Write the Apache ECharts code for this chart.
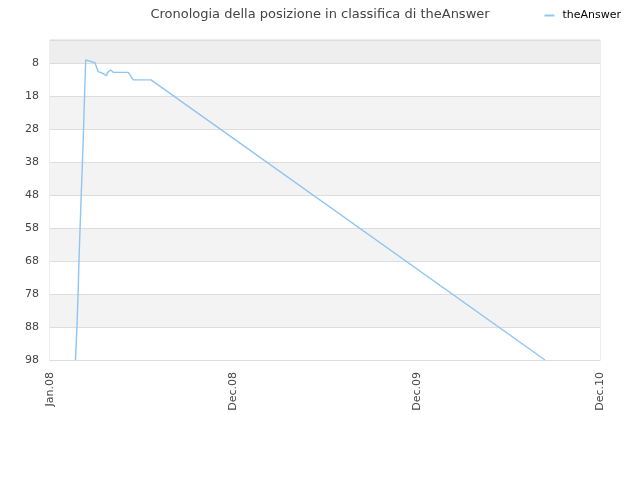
<!DOCTYPE html>
<html>
<head>
<meta charset="utf-8">
<script src="https://cdn.jsdelivr.net/npm/echarts@6/dist/echarts.min.js"></script>
<style>
  html, body { margin: 0; padding: 0; background: #fff; }
  #chart { width: 640px; height: 480px; }
</style>
</head>
<body>
<div id="chart"></div>
<script>
// x positions are in "label steps": 0 = Jan.08, 1 = Dec.08, 2 = Dec.09, 3 = Dec.10
const xTickLabels = ['Jan.08', 'Dec.08', 'Dec.09', 'Dec.10'];
const yTickValues = [8, 18, 28, 38, 48, 58, 68, 78, 88, 98];

const xPos = [0.139, 0.143, 0.147, 0.153, 0.158, 0.164, 0.171, 0.177, 0.183, 0.189, 0.193, 0.195,
  0.245, 0.254, 0.263, 0.278, 0.291, 0.309, 0.313, 0.331, 0.345, 0.427, 0.454, 0.551, 2.700];
const ranks = [98, 93, 88, 78, 68, 58, 47, 38, 28, 17, 10, 7,
  7.9, 8.1, 10.6, 10.9, 11.2, 11.9, 10.9, 10.1, 10.8, 10.8, 13.1, 13.1, 98];

const seriesName = 'theAnswer';

const chart = echarts.init(document.getElementById('chart'));

chart.setOption({
  animation: false,
  textStyle: { fontFamily: 'DejaVu Sans' },
  title: {
    text: 'Cronologia della posizione in classifica di ' + seriesName,
    left: 'center',
    top: 3,
    textStyle: { fontSize: 13, fontWeight: 'normal', color: '#444' }
  },
  legend: {
    right: 14,
    top: 5,
    itemWidth: 10,
    itemHeight: 2,
    icon: 'rect',
    textStyle: { fontSize: 11, color: '#000', padding: [0, 0, 0, 3] },
    data: [seriesName]
  },
  grid: {
    left: 50, right: 40, top: 40, bottom: 120,
    show: true, borderColor: '#dddddd', borderWidth: 1
  },
  xAxis: {
    type: 'value',
    min: 0, max: 3, interval: 1,
    axisLine: { lineStyle: { color: '#dddddd' } },
    axisTick: { show: false },
    splitLine: { show: false },
    axisLabel: {
      rotate: 90,
      margin: 12,
      fontSize: 11,
      color: '#444',
      formatter: v => xTickLabels[Math.round(v)]
    }
  },
  yAxis: {
    type: 'value',
    inverse: true,
    min: 1, max: 98,
    axisLine: { show: false },
    axisTick: { show: false, customValues: [1].concat(yTickValues) },
    axisLabel: { customValues: yTickValues, fontSize: 11, color: '#444', margin: 11 },
    splitLine: { show: true, lineStyle: { color: '#dddddd' } },
    splitArea: {
      show: true,
      areaStyle: {
        color: ['#eeeeee', '#ffffff', '#f3f3f3', '#ffffff', '#f3f3f3',
          '#ffffff', '#f3f3f3', '#ffffff', '#f3f3f3', '#ffffff']
      }
    }
  },
  series: [{
    name: seriesName,
    type: 'line',
    data: xPos.map((x, i) => [x, ranks[i]]),
    showSymbol: false,
    symbol: 'none',
    color: '#92c7f4',
    lineStyle: { width: 1.4, color: '#8fc4f3' }
  }]
});
</script>
</body>
</html>
